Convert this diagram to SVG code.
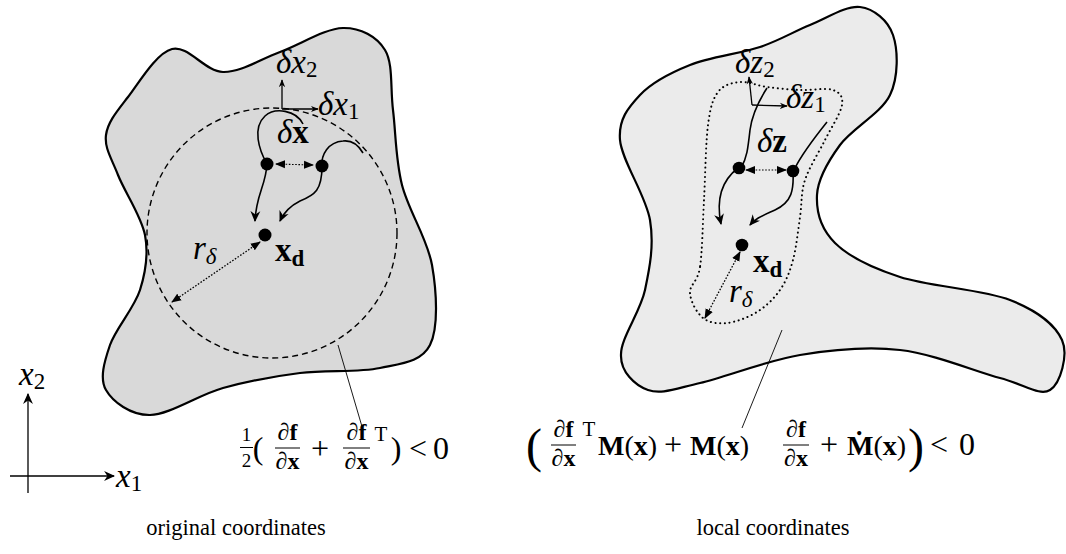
<svg xmlns="http://www.w3.org/2000/svg" width="1066" height="554" viewBox="0 0 1066 554">
<style>
.blob{stroke:#000;stroke-width:2.2;}
.ln{fill:none;stroke:#000;stroke-width:1.6;}
.thin{fill:none;stroke:#000;stroke-width:0.9;}
.dot{fill:#000;}
.dd{fill:none;stroke:#000;stroke-width:1.3;stroke-dasharray:1.6 1.6;}
.t{font-family:"Liberation Serif","DejaVu Serif",serif;fill:#000;}
.m{font-family:"Liberation Serif","DejaVu Serif",serif;font-style:italic;fill:#000;}
.b{font-family:"Liberation Serif","DejaVu Serif",serif;font-weight:bold;fill:#000;}
</style>
<defs>
<marker id="ah" viewBox="0 0 10 10" refX="9" refY="5" markerWidth="11" markerHeight="11" orient="auto-start-reverse" markerUnits="userSpaceOnUse"><path d="M0,0.5 L10,5 L0,9.5 L3,5 Z" fill="#000"/></marker>
<marker id="as" viewBox="0 0 10 10" refX="9" refY="5" markerWidth="8" markerHeight="8" orient="auto-start-reverse" markerUnits="userSpaceOnUse"><path d="M0,1 L10,5 L0,9 L3,5 Z" fill="#000"/></marker>
<marker id="at" viewBox="0 0 10 10" refX="9" refY="5" markerWidth="10" markerHeight="10" orient="auto-start-reverse" markerUnits="userSpaceOnUse"><path d="M0,1 L10,5 L0,9 Z" fill="#000"/></marker>
</defs>

<g id="left-region">
<path class="blob" fill="#d9d9d9" d="M172,49 C187.8,44.8 205,71.5 223,72 C241,72.5 260,59.3 280,52 C300,44.7 325.5,28.3 343,28 C360.5,27.7 376.7,36.3 385,50 C393.3,63.7 390.2,87.5 393,110 C395.8,132.5 395.5,159.2 402,185 C408.5,210.8 427.3,238.3 432,265 C436.7,291.7 438.7,327.8 430,345 C421.3,362.2 401.7,363.3 380,368 C358.3,372.7 326.2,369.7 300,373 C273.8,376.3 248,381 223,388 C198,395 169.5,414.7 150,415 C130.5,415.3 112.7,401.7 106,390 C99.3,378.3 104.3,361.7 110,345 C115.7,328.3 134.2,308.3 140,290 C145.8,271.7 148.7,254.2 145,235 C141.3,215.8 124.5,191.7 118,175 C111.5,158.3 104.3,148 106,135 C107.7,122 117,111.3 128,97 C139,82.7 156.2,53.2 172,49 Z"/>
<circle cx="272" cy="233" r="125" fill="none" stroke="#000" stroke-width="1.4" stroke-dasharray="6 4"/>
</g>

<g id="right-region">
<path class="blob" fill="#ebebeb" d="M620,140 C618.3,119.2 628.3,107.5 640,95 C651.7,82.5 670,73 690,65 C710,57 740,53.7 760,47 C780,40.3 793.3,31.7 810,25 C826.7,18.3 846.2,5.3 860,7 C873.8,8.7 888,20.3 893,35 C898,49.7 898.8,76.7 890,95 C881.2,113.3 852.2,128.3 840,145 C827.8,161.7 817.8,178.7 817,195 C816.2,211.3 821.2,229.3 835,243 C848.8,256.7 870.8,267.5 900,277 C929.2,286.5 983,289.5 1010,300 C1037,310.5 1055.3,325 1062,340 C1068.7,355 1060.3,383.7 1050,390 C1039.7,396.3 1025,384.7 1000,378 C975,371.3 933.3,353.8 900,350 C866.7,346.2 833.3,349.5 800,355 C766.7,360.5 725.3,377.2 700,383 C674.7,388.8 661.2,394.7 648,390 C634.8,385.3 620.5,371.7 621,355 C620.5,338.3 640.2,312.5 645,290 C649.8,267.5 654.2,245 650,220 C645.8,195 621.7,160.8 620,140 Z"/>
<path fill="none" stroke="#000" stroke-width="2" stroke-linecap="round" stroke-dasharray="0.1 4.6" d="M700,267 C697.7,282.5 689.5,284.5 690,293 C690.5,301.5 696.8,313 703,318 C709.2,323 718,324 727,323 C736,322 748.2,317.5 757,312 C765.8,306.5 774,298.7 780,290 C786,281.3 789.7,272.2 793,260 C796.3,247.8 798,230.3 800,217 C802,203.7 800.8,192.8 805,180 C809.2,167.2 818.8,152.5 825,140 C831.2,127.5 840.7,113.3 842,105 C843.3,96.7 840,92.5 833,90 C826,87.5 811,90.5 800,90 C789,89.5 777,88.3 767,87 C757,85.7 748.2,81.2 740,82 C731.8,82.8 723.3,84.8 718,92 C712.7,99.2 710.3,107 708,125 C705.7,143 705.3,176.3 704,200 C702.7,223.7 702.3,251.5 700,267 Z"/>
</g>

<g id="connectors">
<line class="ln" x1="282" y1="109" x2="282" y2="80" marker-end="url(#as)" style="stroke-width:1.3"/>
<line class="ln" x1="282" y1="109" x2="318" y2="109" marker-end="url(#as)" style="stroke-width:1.3"/>
<path class="ln" d="M267,164 C259,150 252,128 265,116 C275,107 296,110 303,124"/>
<path class="ln" d="M322,166 C321,155 328,142 343,141 C352,140 359,146 363,153"/>
<path class="ln" d="M267,164 C266,185 256,195 255,221" marker-end="url(#ah)"/>
<path class="ln" d="M322,166 C322,190 315,195 300,201 C290,206 284,212 280,221" marker-end="url(#ah)"/>
<line class="dd" x1="276" y1="164" x2="313" y2="165" marker-start="url(#at)" marker-end="url(#at)" style="stroke-width:1.1"/>
<line class="dd" x1="260" y1="242" x2="172" y2="302" marker-start="url(#at)" marker-end="url(#at)"/>
<line class="thin" x1="338" y1="345" x2="363" y2="430"/>
<line class="ln" x1="752" y1="105" x2="749" y2="77" marker-end="url(#as)" style="stroke-width:1.3"/>
<line class="ln" x1="752" y1="105" x2="787" y2="106" marker-end="url(#as)" style="stroke-width:1.3"/>
<path class="ln" d="M767,88 C758,102 752,115 750,130 C748,148 747,158 741,168"/>
<path class="ln" d="M827,122 C815,137 803,152 795,168"/>
<path class="ln" d="M738,168 C725,178 715,195 721,224" marker-end="url(#ah)"/>
<path class="ln" d="M793,171 C794,190 792,202 775,210 C762,216 756,218 750,225" marker-end="url(#ah)"/>
<line class="dd" x1="746" y1="170" x2="786" y2="170" marker-start="url(#at)" marker-end="url(#at)" style="stroke-width:1.1"/>
<line class="dd" x1="740" y1="252" x2="705" y2="318" marker-start="url(#at)" marker-end="url(#at)"/>
<line class="thin" x1="782" y1="330" x2="742" y2="428"/>
<line class="ln" x1="28" y1="493" x2="28" y2="394" marker-end="url(#ah)" style="stroke-width:1.3"/>
<line class="ln" x1="10" y1="476" x2="114" y2="476" marker-end="url(#ah)" style="stroke-width:1.3"/>
</g>

<g id="left-points">
<circle class="dot" cx="267" cy="164" r="6.5"/>
<circle class="dot" cx="322" cy="166" r="6.5"/>
<circle class="dot" cx="265" cy="235" r="6.5"/>
</g>
<g id="right-points">
<circle class="dot" cx="739" cy="168" r="6.3"/>
<circle class="dot" cx="793" cy="171" r="6.3"/>
<circle class="dot" cx="742" cy="245" r="6.3"/>
</g>

<g id="left-labels">
<text class="m" x="276" y="73" font-size="33">δx<tspan class="t" font-style="normal" font-size="23" dy="4">2</tspan></text>
<text class="m" x="318" y="115" font-size="33">δx<tspan class="t" font-style="normal" font-size="23" dy="4">1</tspan></text>
<text x="277" y="143" font-size="33"><tspan class="m">δ</tspan><tspan class="b">x</tspan></text>
<text class="m" x="193" y="259" font-size="33">r<tspan font-size="23" dy="5">δ</tspan></text>
<text class="b" x="275" y="261" font-size="33">x<tspan font-size="23" dy="5">d</tspan></text>
</g>

<g id="right-labels">
<text class="m" x="735" y="73" font-size="33">δz<tspan class="t" font-style="normal" font-size="23" dy="4">2</tspan></text>
<text class="m" x="786" y="108" font-size="33">δz<tspan class="t" font-style="normal" font-size="23" dy="4">1</tspan></text>
<text x="757" y="152" font-size="33"><tspan class="m">δ</tspan><tspan class="b">z</tspan></text>
<text class="b" x="753" y="272" font-size="33">x<tspan font-size="23" dy="5">d</tspan></text>
<text class="m" x="729" y="302" font-size="33">r<tspan font-size="23" dy="5">δ</tspan></text>
</g>

<g id="axes-labels">
<text class="m" x="19" y="385" font-size="33">x<tspan class="t" font-style="normal" font-size="23" dy="4">2</tspan></text>
<text class="m" x="116" y="487" font-size="33">x<tspan class="t" font-style="normal" font-size="23" dy="4">1</tspan></text>
</g>

<g id="formula-left">
<text class="t" x="246.5" y="441" font-size="19" text-anchor="middle">1</text>
<line x1="240" y1="447.5" x2="253" y2="447.5" stroke="#000" stroke-width="1"/>
<text class="t" x="246.5" y="467" font-size="19" text-anchor="middle">2</text>
<text class="t" x="258" y="459" font-size="32" text-anchor="middle">(</text>
<text x="287.5" y="440" font-size="24" text-anchor="middle"><tspan class="m">∂</tspan><tspan class="b">f</tspan></text>
<line x1="275" y1="448" x2="300" y2="448" stroke="#000" stroke-width="1"/>
<text x="287.5" y="469" font-size="24" text-anchor="middle"><tspan class="m">∂</tspan><tspan class="b">x</tspan></text>
<text class="t" x="320" y="459" font-size="32" text-anchor="middle">+</text>
<text x="356.5" y="440" font-size="24" text-anchor="middle"><tspan class="m">∂</tspan><tspan class="b">f</tspan></text>
<line x1="343" y1="448" x2="370" y2="448" stroke="#000" stroke-width="1"/>
<text x="356.5" y="469" font-size="24" text-anchor="middle"><tspan class="m">∂</tspan><tspan class="b">x</tspan></text>
<text class="t" x="381" y="441" font-size="21" text-anchor="middle">T</text>
<text class="t" x="396" y="459" font-size="32" text-anchor="middle">)</text>
<text class="t" x="418" y="459" font-size="32" text-anchor="middle">&lt;</text>
<text class="t" x="441" y="459" font-size="32" text-anchor="middle">0</text>
</g>

<g id="formula-right">
<text class="t" x="534" y="462" font-size="48" text-anchor="middle">(</text>
<text x="563.5" y="437" font-size="24" text-anchor="middle"><tspan class="m">∂</tspan><tspan class="b">f</tspan></text>
<line x1="551" y1="445" x2="576" y2="445" stroke="#000" stroke-width="1"/>
<text x="563.5" y="466" font-size="24" text-anchor="middle"><tspan class="m">∂</tspan><tspan class="b">x</tspan></text>
<text class="t" x="589" y="436" font-size="21" text-anchor="middle">T</text>
<text class="t" x="598" y="455" font-size="28"><tspan class="b">M</tspan>(<tspan class="b">x</tspan>)</text>
<text class="t" x="673" y="455" font-size="32" text-anchor="middle">+</text>
<text class="t" x="690" y="455" font-size="28"><tspan class="b">M</tspan>(<tspan class="b">x</tspan>)</text>
<text x="796" y="437" font-size="24" text-anchor="middle"><tspan class="m">∂</tspan><tspan class="b">f</tspan></text>
<line x1="783" y1="445" x2="809" y2="445" stroke="#000" stroke-width="1"/>
<text x="796" y="466" font-size="24" text-anchor="middle"><tspan class="m">∂</tspan><tspan class="b">x</tspan></text>
<text class="t" x="829" y="455" font-size="32" text-anchor="middle">+</text>
<text class="t" x="847" y="455" font-size="28"><tspan class="b">Ṁ</tspan>(<tspan class="b">x</tspan>)</text>
<text class="t" x="916" y="462" font-size="48" text-anchor="middle">)</text>
<text class="t" x="939" y="455" font-size="32" text-anchor="middle">&lt;</text>
<text class="t" x="967" y="455" font-size="32" text-anchor="middle">0</text>
</g>

<g id="captions">
<text class="t" x="236" y="535" font-size="22.5" text-anchor="middle">original coordinates</text>
<text class="t" x="773" y="535" font-size="22.5" text-anchor="middle">local coordinates</text>
</g>
</svg>
